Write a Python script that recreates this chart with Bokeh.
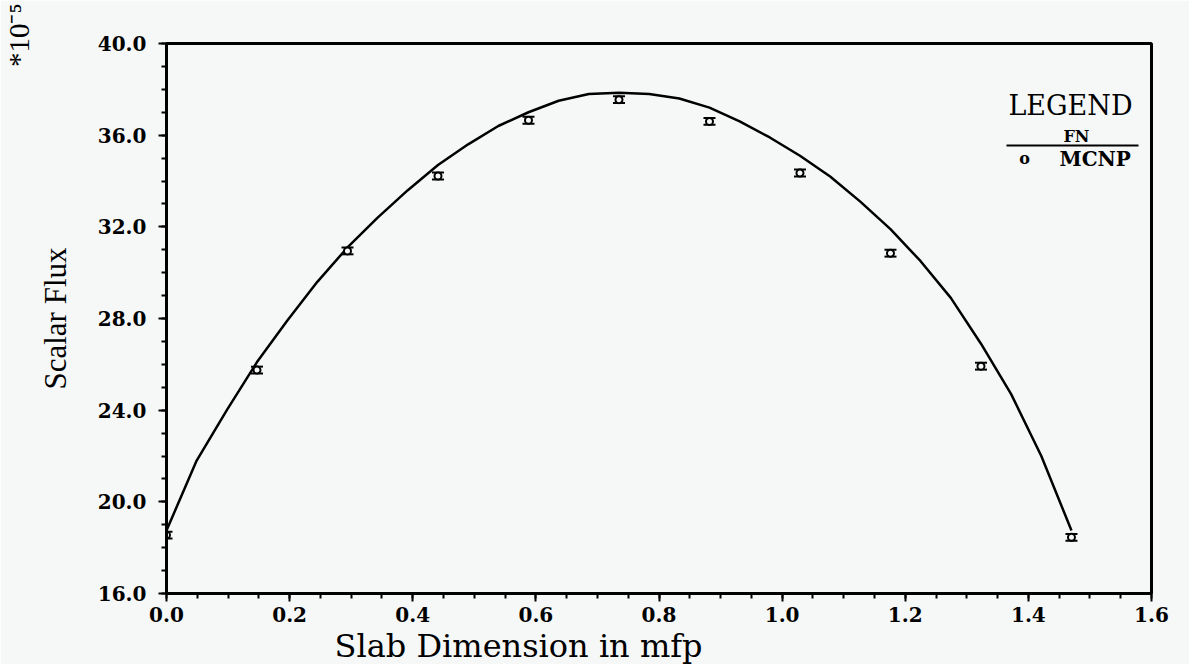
import math
from bokeh.plotting import figure
from bokeh.models import (ColumnDataSource, Whisker, TeeHead, Label, BoxAnnotation,
                          FixedTicker, NumeralTickFormatter, Range1d, Title)
from bokeh.embed import file_html
from bokeh.resources import INLINE

# FN curve
fn_x = [0.0, 0.049, 0.098, 0.147, 0.196, 0.245, 0.294, 0.343, 0.392, 0.441, 0.49,
        0.539, 0.588, 0.637, 0.686, 0.735, 0.784, 0.833, 0.882, 0.931, 0.98,
        1.029, 1.078, 1.127, 1.176, 1.225, 1.274, 1.323, 1.372, 1.421, 1.47]
fn_y = [18.75, 21.8, 24.0, 26.1, 27.9, 29.6, 31.1, 32.4, 33.6, 34.7, 35.6,
        36.4, 37.0, 37.5, 37.8, 37.85, 37.8, 37.6, 37.2, 36.6, 35.9,
        35.1, 34.2, 33.1, 31.9, 30.5, 28.9, 26.9, 24.7, 22.0, 18.75]

# MCNP points
mcnp_x = [0.0, 0.147, 0.294, 0.441, 0.588, 0.735, 0.882, 1.029, 1.176, 1.323, 1.47]
mcnp_y = [18.55, 25.75, 30.95, 34.22, 36.65, 37.55, 36.6, 34.35, 30.85, 25.92, 18.45]
mcnp_err = [0.15, 0.15, 0.15, 0.15, 0.15, 0.15, 0.15, 0.15, 0.15, 0.15, 0.15]

x_ticks = [0.0, 0.2, 0.4, 0.6, 0.8, 1.0, 1.2, 1.4, 1.6]
x_minor = [round(i * 0.05, 2) for i in range(33)]
y_ticks = [16, 20, 24, 28, 32, 36, 40]
y_minor = list(range(16, 41))

BG = "#f6f8f7"

p = figure(frame_width=985, frame_height=550,
           x_range=Range1d(0, 1.6), y_range=Range1d(16, 40),
           output_backend="svg", toolbar_location=None,
           min_border_left=165, min_border_right=39, min_border_top=43, min_border_bottom=20,
           background_fill_color=BG, border_fill_color=BG)
p.grid.visible = False
p.outline_line_color = "black"
p.outline_line_width = 3

tick_font = "DejaVu Serif"
for ax in (p.xaxis[0], p.yaxis[0]):
    ax.axis_line_width = 3
    ax.major_tick_line_width = 2
    ax.minor_tick_line_width = 2
    ax.major_tick_in = 0
    ax.minor_tick_in = 0
    ax.major_tick_out = 8
    ax.minor_tick_out = 5
    ax.major_label_text_font = tick_font
    ax.major_label_text_font_style = "bold"
    ax.major_label_text_font_size = "20px"
    ax.major_label_text_color = "black"
    ax.axis_label_text_color = "black"
    ax.axis_label_text_font_style = "normal"
    ax.formatter = NumeralTickFormatter(format="0.0")

p.xaxis[0].ticker = FixedTicker(ticks=x_ticks, minor_ticks=x_minor)
p.yaxis[0].ticker = FixedTicker(ticks=y_ticks, minor_ticks=y_minor)
p.xaxis[0].major_label_standoff = 5
p.yaxis[0].major_label_standoff = 12

p.yaxis[0].axis_label = "Scalar Flux"
p.yaxis[0].axis_label_text_font = "Liberation Serif"
p.yaxis[0].axis_label_text_font_size = "31px"
p.yaxis[0].axis_label_standoff = 22

# x-axis label placed as a title below the axis (left-shifted as in the reference)
p.add_layout(Title(text="Slab Dimension in mfp", align="left", offset=168, standoff=0,
                   text_font="DejaVu Serif", text_font_size="32px", text_font_style="normal",
                   text_color="black"), "below")

# multiplier *10^-5 at the top-left, vertical
p.add_layout(Title(text="*10\u207b\u2075", align="right", offset=-40, standoff=0,
                   text_font="Liberation Serif", text_font_size="29px", text_font_style="normal",
                   text_color="black"), "left")

# FN curve
p.line(fn_x, fn_y, line_color="black", line_width=2.5)

# MCNP points with error bars
src = ColumnDataSource(dict(
    x=mcnp_x, y=mcnp_y,
    lo=[v - e for v, e in zip(mcnp_y, mcnp_err)],
    hi=[v + e for v, e in zip(mcnp_y, mcnp_err)]))
wh = Whisker(source=src, base="x", lower="lo", upper="hi",
             line_color="black", line_width=2,
             upper_head=TeeHead(size=12, line_color="black", line_width=2),
             lower_head=TeeHead(size=12, line_color="black", line_width=2))
p.add_layout(wh)
p.scatter("x", "y", source=src, marker="circle", size=7, fill_color=BG,
          line_color="black", line_width=2)

# Legend (annotations in screen units, relative to the frame)
p.add_layout(Label(x=904, y=488, x_units="screen", y_units="screen", text="LEGEND",
                   text_font="DejaVu Serif", text_font_size="27px", text_align="center",
                   text_baseline="middle", text_color="black"))
p.add_layout(Label(x=910, y=457, x_units="screen", y_units="screen", text="FN",
                   text_font="DejaVu Serif", text_font_size="16px", text_font_style="bold",
                   text_align="center", text_baseline="middle", text_color="black"))
p.add_layout(BoxAnnotation(left=840, right=972, bottom=447, top=449,
                           left_units="screen", right_units="screen",
                           bottom_units="screen", top_units="screen",
                           fill_color="black", fill_alpha=1, line_alpha=0))
p.add_layout(Label(x=858, y=435, x_units="screen", y_units="screen", text="o",
                   text_font="DejaVu Serif", text_font_size="16px", text_font_style="bold",
                   text_align="center", text_baseline="middle", text_color="black"))
p.add_layout(Label(x=893, y=435, x_units="screen", y_units="screen", text="MCNP",
                   text_font="DejaVu Serif", text_font_size="20px", text_font_style="bold",
                   text_align="left", text_baseline="middle", text_color="black"))

open("out.html", "w").write(file_html(p, INLINE))
